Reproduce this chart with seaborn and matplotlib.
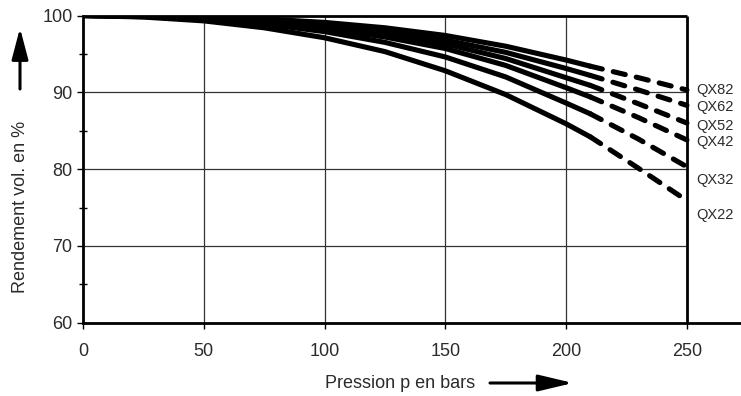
import pandas as pd
import seaborn as sns
import matplotlib.pyplot as plt
from matplotlib.ticker import MultipleLocator

# Pression (bars): partie mesurée (trait plein) et partie extrapolée (tirets)
pression = [0, 25, 50, 75, 100, 125, 150, 175, 200, 210]
pression_ext = [210, 230, 250]

series = ["QX82", "QX62", "QX52", "QX42", "QX32", "QX22"]

# Rendement volumétrique en %
qx82 = [100, 99.95, 99.8, 99.55, 99.1, 98.4, 97.4, 96.0, 94.2, 93.4]
qx62 = [100, 99.95, 99.8, 99.45, 98.85, 98.0, 96.8, 95.2, 93.1, 92.2]
qx52 = [100, 99.9, 99.7, 99.3, 98.6, 97.6, 96.3, 94.4, 91.9, 90.9]
qx42 = [100, 99.9, 99.6, 99.1, 98.3, 97.2, 95.7, 93.5, 90.6, 89.4]
qx32 = [100, 99.85, 99.5, 98.9, 97.9, 96.5, 94.6, 92.0, 88.6, 87.2]
qx22 = [100, 99.8, 99.3, 98.4, 97.1, 95.3, 92.8, 89.7, 85.9, 84.2]

qx82_ext = [93.4, 91.9, 90.3]
qx62_ext = [92.2, 90.3, 88.3]
qx52_ext = [90.9, 88.5, 86.0]
qx42_ext = [89.4, 86.7, 83.8]
qx32_ext = [87.2, 83.9, 80.3]
qx22_ext = [84.2, 80.1, 75.9]

# petit décalage vertical des étiquettes (en % de rendement)
label_shift = [0, -0.2, -0.4, -0.3, -1.7, -1.9]

mesure = dict(zip(series, [qx82, qx62, qx52, qx42, qx32, qx22]))
extrap = dict(zip(series, [qx82_ext, qx62_ext, qx52_ext, qx42_ext, qx32_ext, qx22_ext]))

sns.set_style("white")
plt.rcParams["font.family"] = ["Liberation Sans", "DejaVu Sans"]

ink = "#2b2b2b"
fig = plt.figure(figsize=(7.41, 3.96), dpi=100)
ax = fig.add_axes([83 / 741, 73.3 / 396, 1 - 83 / 741, 307.2 / 396])

ax.set_xlim(0, 272.4)
ax.set_ylim(60, 100)

# grille
for gx in [50, 100, 150, 200]:
    ax.vlines(gx, 60, 100, color="#333333", lw=0.9, zorder=1)
for gy in [70, 80, 90]:
    ax.hlines(gy, 0, 250, color="#333333", lw=0.9, zorder=1)

# cadre : haut et droite seulement jusqu'à 250 bars
ax.hlines(100, 0, 250, color="black", lw=2.0, zorder=3, clip_on=False)
ax.vlines(250, 60, 100, color="black", lw=2.0, zorder=3, clip_on=False)

for name in series:
    sns.lineplot(x=pression, y=mesure[name], ax=ax, color="black", lw=3.7,
                 errorbar=None, solid_capstyle="round",
                 solid_joinstyle="round", zorder=4)
    sns.lineplot(x=pression_ext, y=extrap[name], ax=ax, color="black", lw=3.7,
                 errorbar=None, linestyle=(0, (2.4, 2.2)),
                 dash_capstyle="round", zorder=4)

for name, dy in zip(series, label_shift):
    ax.text(254, extrap[name][-1] + dy, name, fontsize=10.5, color=ink,
            va="center", ha="left")

sns.despine(ax=ax, top=True, right=True)
for side in ["left", "bottom"]:
    ax.spines[side].set_linewidth(2.0)
    ax.spines[side].set_color("black")

ax.set_xticks([0, 50, 100, 150, 200, 250])
ax.set_yticks([60, 70, 80, 90, 100])
ax.yaxis.set_minor_locator(MultipleLocator(5))
ax.tick_params(axis="x", which="major", bottom=True, direction="out",
               length=4.5, width=1, pad=10, labelsize=13, labelcolor=ink,
               color="black")
ax.tick_params(axis="y", which="major", left=True, direction="out",
               length=4.5, width=1, pad=3, labelsize=13, labelcolor=ink,
               color="black")
ax.tick_params(axis="y", which="minor", left=True, direction="inout",
               length=5.5, width=1, color="black")
ax.set_xlabel("")
ax.set_ylabel("")

# titres d'axes avec flèches
fig.text(21 / 741, 1 - 207 / 396, "Rendement vol. en %", rotation=90,
         fontsize=13, color=ink, ha="center", va="center")
fig.text(325 / 741, 1 - 383 / 396, "Pression p en bars", fontsize=13,
         color=ink, ha="left", va="center")

ax.annotate("", xy=(20, 396 - 28), xytext=(20, 396 - 89),
            xycoords="figure pixels", textcoords="figure pixels",
            arrowprops=dict(arrowstyle="-|>,head_length=1.9,head_width=0.5",
                            lw=2.2, color="black", shrinkA=0, shrinkB=0))
ax.annotate("", xy=(573, 13), xytext=(490, 13),
            xycoords="figure pixels", textcoords="figure pixels",
            arrowprops=dict(arrowstyle="-|>,head_length=2.1,head_width=0.5",
                            lw=2.2, color="black", shrinkA=0, shrinkB=0))

fig.savefig("out.png", dpi=100)
